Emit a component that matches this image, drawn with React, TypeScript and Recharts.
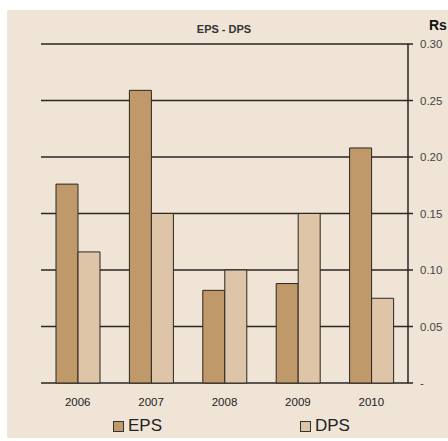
import React from 'react';
import { BarChart, Bar, XAxis, YAxis, CartesianGrid, Legend } from 'recharts';

const years = ['2006', '2007', '2008', '2009', '2010'];
const eps = [0.176, 0.259, 0.082, 0.088, 0.208];
const dps = [0.116, 0.15, 0.1, 0.15, 0.075];
const yTicks = [0, 0.05, 0.1, 0.15, 0.2, 0.25, 0.3];
const edgeTicks = [0, 1, 2, 3, 4, 5];

const data = years.map((year, i) => ({ year, EPS: eps[i], DPS: dps[i] }));

const BG = '#f0e4d7';
const EPS_COLOR = '#bf996a';
const DPS_COLOR = '#dec5a7';
const LINE = '#2b2622';
const FONT = 'Arial, "Liberation Sans", sans-serif';

const LegendBox = () => (
  <div style={{ position: 'relative', width: 441, height: 30, fontFamily: FONT }}>
    {[
      { name: 'EPS', color: EPS_COLOR, left: 106 },
      { name: 'DPS', color: DPS_COLOR, left: 293 },
    ].map((it) => (
      <div
        key={it.name}
        style={{ position: 'absolute', left: it.left, top: 10, display: 'flex', alignItems: 'center' }}
      >
        <span
          style={{
            display: 'inline-block',
            width: 9,
            height: 9,
            background: it.color,
            border: '1px solid #333',
            marginRight: 4,
          }}
        />
        <span style={{ fontSize: 17, color: '#222', lineHeight: '16px' }}>{it.name}</span>
      </div>
    ))}
  </div>
);

export default function App() {
  return (
    <div
      style={{
        position: 'absolute',
        left: 7,
        top: 10,
        width: 441,
        height: 428,
        background: BG,
        fontFamily: FONT,
        overflow: 'hidden',
      }}
    >
      <div
        style={{
          position: 'absolute',
          left: 0,
          width: 434,
          top: 13,
          textAlign: 'center',
          fontSize: 11,
          fontWeight: 'bold',
          color: '#333',
        }}
      >
        EPS - DPS
      </div>
      <div
        style={{
          position: 'absolute',
          left: 422,
          top: 7,
          fontSize: 14,
          fontWeight: 'bold',
          color: '#111',
          whiteSpace: 'nowrap',
        }}
      >
        Rs
      </div>
      <BarChart
        width={441}
        height={428}
        data={data}
        margin={{ top: 34, left: 34, right: 0, bottom: 0 }}
        barGap={0}
        barSize={22}
      >
        <CartesianGrid vertical={false} stroke={LINE} strokeWidth={1.3} yAxisId="r" />
        <XAxis
          xAxisId="edge"
          type="number"
          domain={[0, 5]}
          ticks={edgeTicks}
          tick={false}
          tickSize={4}
          stroke={LINE}
          strokeWidth={2}
          height={0}
        />
        <XAxis
          dataKey="year"
          axisLine={false}
          tickLine={false}
          tickSize={0}
          height={25}
          tickMargin={15}
          tick={{ fontSize: 11.5, fill: '#222', fontFamily: FONT }}
        />
        <YAxis
          yAxisId="l"
          orientation="left"
          width={0}
          tick={false}
          tickLine={false}
          domain={[0, 0.3]}
          stroke={LINE}
          strokeWidth={1.5}
        />
        <YAxis
          yAxisId="r"
          orientation="right"
          width={40}
          domain={[0, 0.3]}
          ticks={yTicks}
          tickSize={5}
          tickMargin={7}
          stroke={LINE}
          strokeWidth={1.5}
          tickFormatter={(v: number) => (v === 0 ? '-' : v.toFixed(2))}
          tick={{ fontSize: 11.5, fill: '#444', fontFamily: FONT, textAnchor: 'start' }}
        />
        <Legend verticalAlign="bottom" content={() => <LegendBox />} wrapperStyle={{ left: 0, width: 441 }} />
        <Bar dataKey="EPS" yAxisId="r" fill={EPS_COLOR} stroke="#2b2622" strokeWidth={1} isAnimationActive={false} />
        <Bar dataKey="DPS" yAxisId="r" fill={DPS_COLOR} stroke="#2b2622" strokeWidth={1} isAnimationActive={false} />
      </BarChart>
    </div>
  );
}
